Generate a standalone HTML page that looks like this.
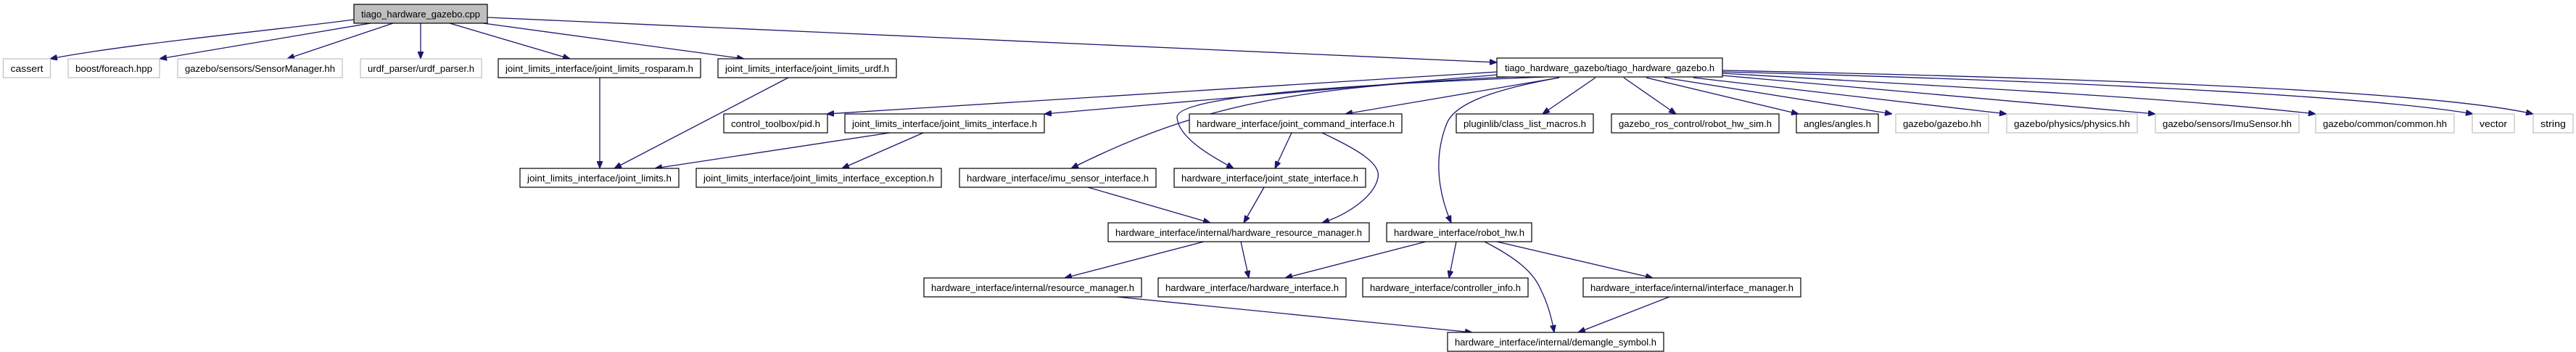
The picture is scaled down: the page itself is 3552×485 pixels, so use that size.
<!DOCTYPE html>
<html><head><meta charset="utf-8"><style>
html,body{margin:0;padding:0;background:#fff;}
svg{display:block;}
text{font-family:"Liberation Sans",Helvetica,sans-serif;font-size:13px;fill:#000;}
.e{fill:none;stroke:#191970;stroke-width:1.3;}
.n{fill:#fff;stroke:#000;stroke-width:1.2;}
.g{fill:#fff;stroke:#bfbfbf;stroke-width:1.2;}
</style></head><body>
<svg width="3552" height="485" viewBox="0 0 3552 485" xmlns="http://www.w3.org/2000/svg">
<defs><marker id="a" markerWidth="10" markerHeight="8" refX="10" refY="4" orient="auto" markerUnits="userSpaceOnUse"><path d="M0,0 L10,4 L0,8 Z" fill="#191970" stroke="#191970"/></marker></defs>
<g class="edges">
<path class="e" marker-end="url(#a)" d="M488,27 C350,45 180,60 69,81"/>
<path class="e" marker-end="url(#a)" d="M511,32 L220,81"/>
<path class="e" marker-end="url(#a)" d="M542,32 L396,81"/>
<path class="e" marker-end="url(#a)" d="M580,32 L580,81"/>
<path class="e" marker-end="url(#a)" d="M620,32 L786,81"/>
<path class="e" marker-end="url(#a)" d="M666,32 L1026,81"/>
<path class="e" marker-end="url(#a)" d="M672,24 L2064,86"/>
<path class="e" marker-end="url(#a)" d="M827,107 L827,232"/>
<path class="e" marker-end="url(#a)" d="M1087,107 L847,232"/>
<path class="e" marker-end="url(#a)" d="M2065,99 L1140,157"/>
<path class="e" marker-end="url(#a)" d="M2065,103 L1440,157"/>
<path class="e" marker-end="url(#a)" d="M2080,106 C1800,120 1660,140 1477,232"/>
<path class="e" marker-end="url(#a)" d="M2130,106 C1900,115 1620,130 1623,162 C1625,190 1670,215 1701,232"/>
<path class="e" marker-end="url(#a)" d="M2150,107 L1855,157"/>
<path class="e" marker-end="url(#a)" d="M2150,107 C2050,125 2005,145 1995,170 C1975,220 1985,270 2001,307"/>
<path class="e" marker-end="url(#a)" d="M2200,107 L2127,157"/>
<path class="e" marker-end="url(#a)" d="M2239,107 L2311,157"/>
<path class="e" marker-end="url(#a)" d="M2270,107 L2480,157"/>
<path class="e" marker-end="url(#a)" d="M2295,107 L2609,157"/>
<path class="e" marker-end="url(#a)" d="M2335,107 L2767,157"/>
<path class="e" marker-end="url(#a)" d="M2375,104 L2972,157"/>
<path class="e" marker-end="url(#a)" d="M2375,101 C2700,120 3000,135 3193,157"/>
<path class="e" marker-end="url(#a)" d="M2375,99 C2800,110 3250,130 3410,157"/>
<path class="e" marker-end="url(#a)" d="M2375,97 C2900,108 3350,125 3493,157"/>
<path class="e" marker-end="url(#a)" d="M1227,183 L903,232"/>
<path class="e" marker-end="url(#a)" d="M1273,183 L1161,232"/>
<path class="e" marker-end="url(#a)" d="M1781,183 L1758,232"/>
<path class="e" marker-end="url(#a)" d="M1823,183 C1870,205 1905,225 1900,245 C1895,270 1860,295 1823,307"/>
<path class="e" marker-end="url(#a)" d="M1500,258 L1669,307"/>
<path class="e" marker-end="url(#a)" d="M1743,258 L1715,307"/>
<path class="e" marker-end="url(#a)" d="M1660,333 L1468,383"/>
<path class="e" marker-end="url(#a)" d="M1711,333 L1722,383"/>
<path class="e" marker-end="url(#a)" d="M1966,333 L1772,383"/>
<path class="e" marker-end="url(#a)" d="M2008,333 L1998,383"/>
<path class="e" marker-end="url(#a)" d="M2047,333 C2090,355 2115,375 2125,400 C2135,420 2140,440 2143,458"/>
<path class="e" marker-end="url(#a)" d="M2064,333 L2279,383"/>
<path class="e" marker-end="url(#a)" d="M2302,409 L2176,458"/>
<path class="e" marker-end="url(#a)" d="M1540,409 L2030,458"/>
</g>
<g class="nodes">
<rect x="488" y="6" width="184" height="26" fill="#bfbfbf" stroke="#000" stroke-width="1.2"/><text x="580" y="24" text-anchor="middle" textLength="164" lengthAdjust="spacingAndGlyphs">tiago_hardware_gazebo.cpp</text>
<rect class="g" x="4.5" y="81" width="65" height="26"/><text x="37" y="99" text-anchor="middle" textLength="45" lengthAdjust="spacingAndGlyphs">cassert</text>
<rect class="g" x="94" y="81" width="126" height="26"/><text x="157" y="99" text-anchor="middle" textLength="106" lengthAdjust="spacingAndGlyphs">boost/foreach.hpp</text>
<rect class="g" x="245" y="81" width="227" height="26"/><text x="358.5" y="99" text-anchor="middle" textLength="207" lengthAdjust="spacingAndGlyphs">gazebo/sensors/SensorManager.hh</text>
<rect class="g" x="497" y="81" width="167" height="26"/><text x="580.5" y="99" text-anchor="middle" textLength="147" lengthAdjust="spacingAndGlyphs">urdf_parser/urdf_parser.h</text>
<rect class="n" x="687" y="81" width="279" height="26"/><text x="826.5" y="99" text-anchor="middle" textLength="259" lengthAdjust="spacingAndGlyphs">joint_limits_interface/joint_limits_rosparam.h</text>
<rect class="n" x="990" y="81" width="246" height="26"/><text x="1113" y="99" text-anchor="middle" textLength="226" lengthAdjust="spacingAndGlyphs">joint_limits_interface/joint_limits_urdf.h</text>
<rect class="n" x="2064" y="80" width="311" height="26"/><text x="2219.5" y="98" text-anchor="middle" textLength="289" lengthAdjust="spacingAndGlyphs">tiago_hardware_gazebo/tiago_hardware_gazebo.h</text>
<rect class="n" x="998" y="157" width="143" height="26"/><text x="1069.5" y="175" text-anchor="middle" textLength="123" lengthAdjust="spacingAndGlyphs">control_toolbox/pid.h</text>
<rect class="n" x="1165" y="157" width="275" height="26"/><text x="1302.5" y="175" text-anchor="middle" textLength="255" lengthAdjust="spacingAndGlyphs">joint_limits_interface/joint_limits_interface.h</text>
<rect class="n" x="1640" y="157" width="293" height="26"/><text x="1786.5" y="175" text-anchor="middle" textLength="273" lengthAdjust="spacingAndGlyphs">hardware_interface/joint_command_interface.h</text>
<rect class="n" x="2008" y="157" width="189" height="26"/><text x="2102.5" y="175" text-anchor="middle" textLength="169" lengthAdjust="spacingAndGlyphs">pluginlib/class_list_macros.h</text>
<rect class="n" x="2222" y="157" width="231" height="26"/><text x="2337.5" y="175" text-anchor="middle" textLength="211" lengthAdjust="spacingAndGlyphs">gazebo_ros_control/robot_hw_sim.h</text>
<rect class="n" x="2477" y="157" width="113" height="26"/><text x="2533.5" y="175" text-anchor="middle" textLength="93" lengthAdjust="spacingAndGlyphs">angles/angles.h</text>
<rect class="g" x="2614" y="157" width="128" height="26"/><text x="2678" y="175" text-anchor="middle" textLength="108" lengthAdjust="spacingAndGlyphs">gazebo/gazebo.hh</text>
<rect class="g" x="2767" y="157" width="180" height="26"/><text x="2857" y="175" text-anchor="middle" textLength="160" lengthAdjust="spacingAndGlyphs">gazebo/physics/physics.hh</text>
<rect class="g" x="2972" y="157" width="198" height="26"/><text x="3071" y="175" text-anchor="middle" textLength="178" lengthAdjust="spacingAndGlyphs">gazebo/sensors/ImuSensor.hh</text>
<rect class="g" x="3193" y="157" width="191" height="26"/><text x="3288.5" y="175" text-anchor="middle" textLength="171" lengthAdjust="spacingAndGlyphs">gazebo/common/common.hh</text>
<rect class="g" x="3409" y="157" width="58" height="26"/><text x="3438" y="175" text-anchor="middle" textLength="38" lengthAdjust="spacingAndGlyphs">vector</text>
<rect class="g" x="3493" y="157" width="55" height="26"/><text x="3520.5" y="175" text-anchor="middle" textLength="35" lengthAdjust="spacingAndGlyphs">string</text>
<rect class="n" x="717" y="232" width="219" height="26"/><text x="826.5" y="250" text-anchor="middle" textLength="199" lengthAdjust="spacingAndGlyphs">joint_limits_interface/joint_limits.h</text>
<rect class="n" x="960" y="232" width="338" height="26"/><text x="1129" y="250" text-anchor="middle" textLength="318" lengthAdjust="spacingAndGlyphs">joint_limits_interface/joint_limits_interface_exception.h</text>
<rect class="n" x="1323" y="232" width="271" height="26"/><text x="1458.5" y="250" text-anchor="middle" textLength="251" lengthAdjust="spacingAndGlyphs">hardware_interface/imu_sensor_interface.h</text>
<rect class="n" x="1619" y="232" width="264" height="26"/><text x="1751" y="250" text-anchor="middle" textLength="244" lengthAdjust="spacingAndGlyphs">hardware_interface/joint_state_interface.h</text>
<rect class="n" x="1528" y="307" width="360" height="26"/><text x="1708" y="325" text-anchor="middle" textLength="340" lengthAdjust="spacingAndGlyphs">hardware_interface/internal/hardware_resource_manager.h</text>
<rect class="n" x="1912" y="307" width="200" height="26"/><text x="2012" y="325" text-anchor="middle" textLength="180" lengthAdjust="spacingAndGlyphs">hardware_interface/robot_hw.h</text>
<rect class="n" x="1274" y="383" width="300" height="26"/><text x="1424" y="401" text-anchor="middle" textLength="280" lengthAdjust="spacingAndGlyphs">hardware_interface/internal/resource_manager.h</text>
<rect class="n" x="1597" y="383" width="259" height="26"/><text x="1726.5" y="401" text-anchor="middle" textLength="239" lengthAdjust="spacingAndGlyphs">hardware_interface/hardware_interface.h</text>
<rect class="n" x="1879" y="383" width="228" height="26"/><text x="1993" y="401" text-anchor="middle" textLength="208" lengthAdjust="spacingAndGlyphs">hardware_interface/controller_info.h</text>
<rect class="n" x="2183" y="383" width="300" height="26"/><text x="2333" y="401" text-anchor="middle" textLength="280" lengthAdjust="spacingAndGlyphs">hardware_interface/internal/interface_manager.h</text>
<rect class="n" x="1996" y="458" width="298" height="26"/><text x="2145" y="476" text-anchor="middle" textLength="278" lengthAdjust="spacingAndGlyphs">hardware_interface/internal/demangle_symbol.h</text>
</g>
</svg>
</body></html>
